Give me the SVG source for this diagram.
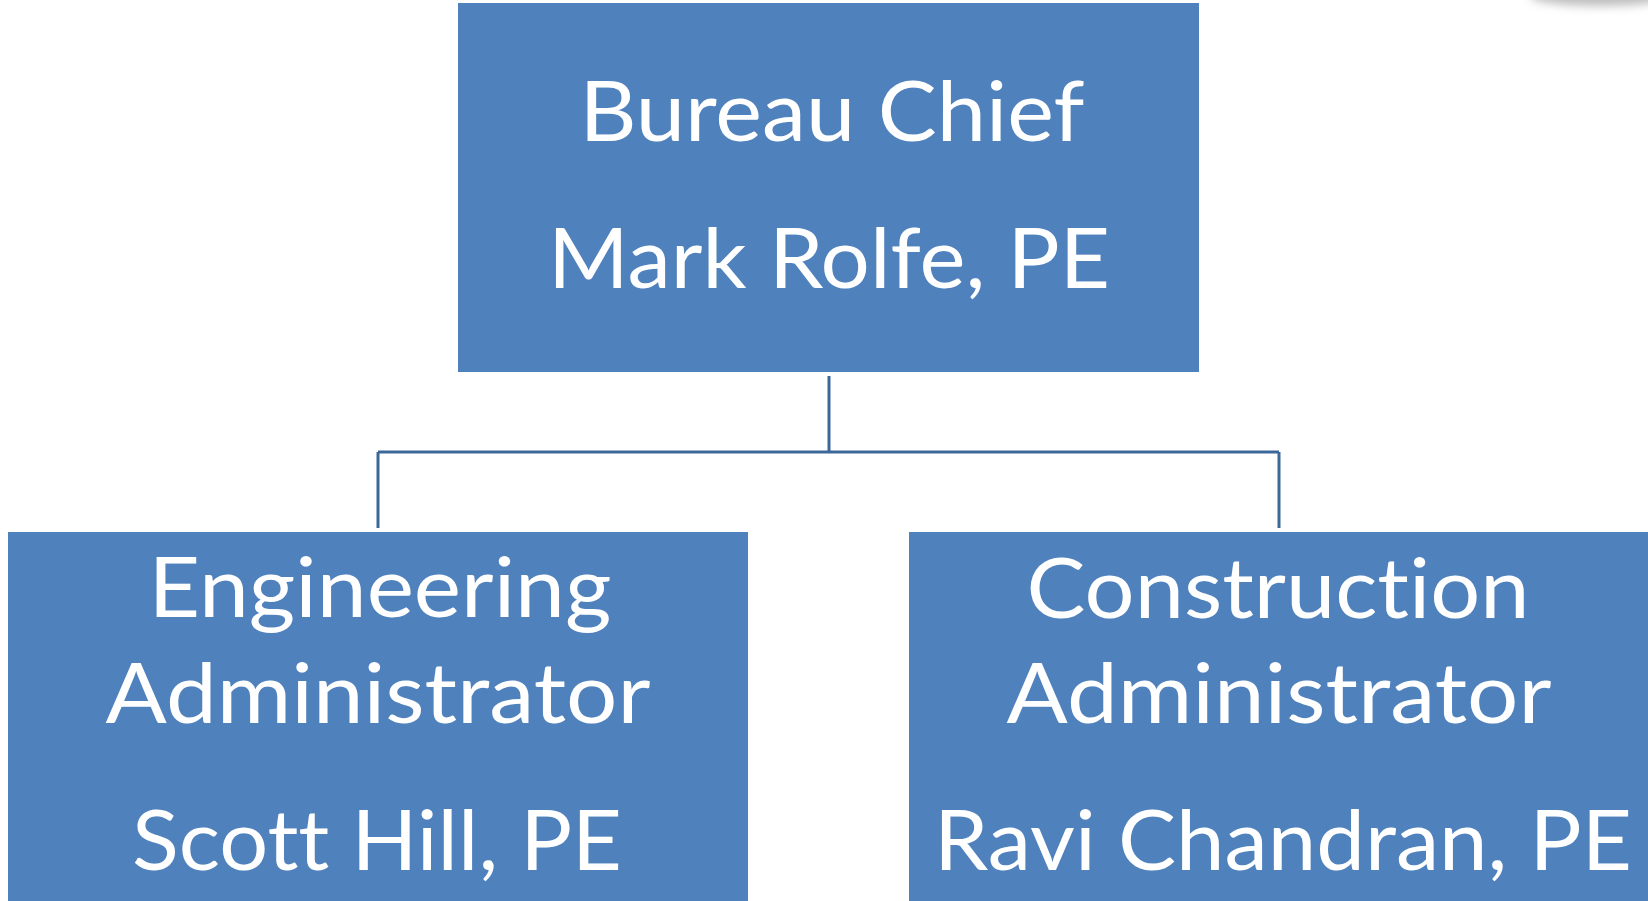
<svg xmlns="http://www.w3.org/2000/svg" width="1648" height="901" viewBox="0 0 1648 901">
  <style>
    .box { fill: #4F81BD; }
    .lbl { fill: #FFFFFF; font-family: Lato, "Open Sans", "Liberation Sans", sans-serif; font-size: 84px; text-anchor: middle; font-variant-ligatures: none; font-feature-settings: "liga" 0, "clig" 0, "dlig" 0; }
    .conn { fill: none; stroke: #3C6799; stroke-width: 3; }
  </style>
  <defs>
    <filter id="blur" x="-50%" y="-200%" width="200%" height="500%">
      <feGaussianBlur stdDeviation="5"/>
    </filter>
  </defs>
  <rect width="1648" height="901" fill="#FFFFFF"/>
  <ellipse cx="1600" cy="-4" rx="70" ry="10" fill="#BDBDBD" filter="url(#blur)"/>

  <g id="connectors">
    <path class="conn" d="M829 376 V452"/>
    <path class="conn" d="M378 452 H1279"/>
    <path class="conn" d="M378 452 V528"/>
    <path class="conn" d="M1279 452 V528"/>
  </g>

  <g id="bureau-chief">
    <rect class="box" x="458" y="3" width="741" height="369"/>
    <text class="lbl" x="832" y="141" textLength="505" lengthAdjust="spacingAndGlyphs">Bureau Chief</text>
    <text class="lbl" x="829" y="288" textLength="562" lengthAdjust="spacingAndGlyphs">Mark Rolfe, PE</text>
  </g>

  <g id="engineering-admin">
    <rect class="box" x="8" y="532" width="740" height="369"/>
    <text class="lbl" x="380" y="617" textLength="463" lengthAdjust="spacingAndGlyphs">Engineering</text>
    <text class="lbl" x="378" y="723" textLength="545" lengthAdjust="spacingAndGlyphs">Administrator</text>
    <text class="lbl" x="377" y="870" textLength="490" lengthAdjust="spacingAndGlyphs">Scott Hill, PE</text>
  </g>

  <g id="construction-admin">
    <rect class="box" x="909" y="532" width="739" height="369"/>
    <text class="lbl" x="1278" y="618" textLength="503" lengthAdjust="spacingAndGlyphs">Construction</text>
    <text class="lbl" x="1279" y="723" textLength="545" lengthAdjust="spacingAndGlyphs">Administrator</text>
    <text class="lbl" x="1283" y="870" textLength="698" lengthAdjust="spacingAndGlyphs">Ravi Chandran, PE</text>
  </g>
</svg>
